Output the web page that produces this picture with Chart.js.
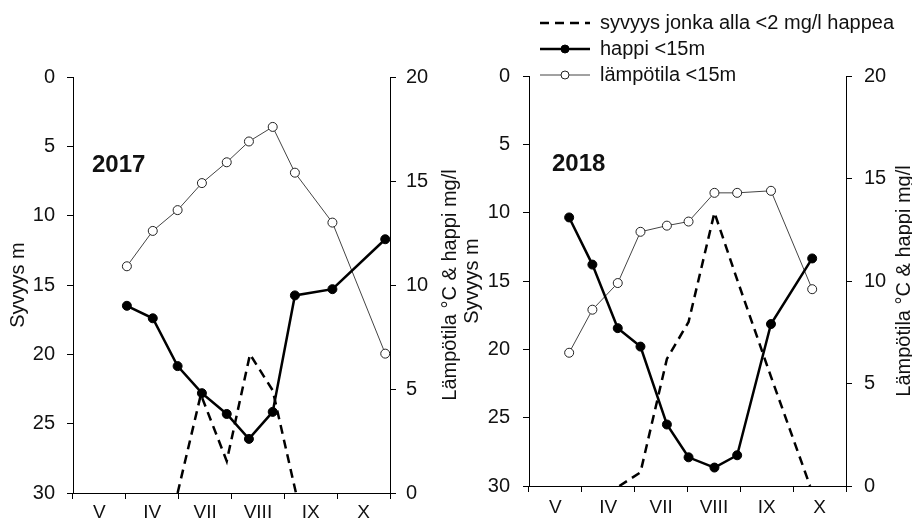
<!DOCTYPE html>
<html>
<head>
<meta charset="utf-8">
<script src="https://cdn.jsdelivr.net/npm/chart.js@4.4.0/dist/chart.umd.min.js"></script>
<style>
  html, body { margin: 0; padding: 0; background: #fff; }
  #wrap { position: relative; width: 912px; height: 523px; overflow: hidden; }
  .panel { position: absolute; top: 0; }
  #p2017 { left: 0; }
  #p2018 { left: 460px; }
</style>
</head>
<body>
<div id="wrap">
  <div class="panel" id="p2017"><canvas id="chart2017" width="460" height="523"></canvas></div>
  <div class="panel" id="p2018"><canvas id="chart2018" width="452" height="523"></canvas></div>
</div>
<script>
// ==========================================
// DATA (x = months after start of May)
// ==========================================
const monthLabels = ["V", "IV", "VII", "VIII", "IX", "X"];
const depthTicks = [0, 5, 10, 15, 20, 25, 30];
const valueTicks = [0, 5, 10, 15, 20];

const time2017 = [1.02, 1.51, 1.98, 2.44, 2.91, 3.33, 3.78, 4.20, 4.91, 5.91];
const temp2017 = [10.9, 12.6, 13.6, 14.9, 15.9, 16.9, 17.6, 15.4, 13.0, 6.7];
const oxygen2017 = [9.0, 8.4, 6.1, 4.8, 3.8, 2.6, 3.9, 9.5, 9.8, 12.2];
const anoxTime2017 = [1.98, 2.42, 2.91, 3.35, 3.78, 4.22];
const anoxDepth2017 = [30, 22.9, 27.7, 20.0, 22.6, 30];

const time2018 = [0.76, 1.20, 1.68, 2.11, 2.61, 3.02, 3.51, 3.94, 4.58, 5.36];
const temp2018 = [6.5, 8.6, 9.9, 12.4, 12.7, 12.9, 14.3, 14.3, 14.4, 9.6];
const oxygen2018 = [13.1, 10.8, 7.7, 6.8, 3.0, 1.4, 0.9, 1.5, 7.9, 11.1];
const anoxTime2018 = [1.71, 2.11, 2.61, 3.02, 3.51, 3.94, 4.58, 5.32];
const anoxDepth2018 = [30, 29.0, 20.7, 18.0, 10.0, 14.9, 22.0, 30];

const seriesNames = ["syvyys jonka alla <2 mg/l happea", "happi <15m", "lämpötila <15m"];
const depthTitle = "Syvyys m";
const valueTitle = "Lämpötila °C & happi mg/l";

// ==========================================
// CHART SETUP
// ==========================================
const FONT = 'Arial, "Liberation Sans", Helvetica, sans-serif';
const INK = "#111";
Chart.defaults.font.family = FONT;
Chart.defaults.color = INK;

const toPoints = (xs, ys) => xs.map((x, i) => ({ x: x, y: ys[i] }));

// extra drawing: year label, upward right-axis title, legend line samples
const panelDecor = {
  id: "panelDecor",
  afterLayout(chart, args, opts) {
    const lg = chart.legend;
    if (lg && opts.legendAt) {
      // move the legend above the plot, outside the chart area
      lg.left = opts.legendAt.x;
      lg.top = opts.legendAt.y;
      lg.width = 380;
      lg.right = lg.left + 380;
      lg.height = 200;
      lg.bottom = lg.top + 200;
    }
  },
  afterDraw(chart, args, opts) {
    const ctx = chart.ctx;
    const area = chart.chartArea;
    const yr = chart.scales.yVal;

    ctx.save();
    ctx.fillStyle = INK;
    ctx.font = "bold 24px " + FONT;
    ctx.textBaseline = "middle";
    ctx.textAlign = "left";
    ctx.fillText(opts.year, area.left + opts.yearDx, opts.yearY);
    ctx.restore();

    ctx.save();
    ctx.fillStyle = INK;
    ctx.font = "20px " + FONT;
    ctx.textBaseline = "middle";
    ctx.textAlign = "center";
    ctx.translate(yr.right - opts.rightTitleOffset, (area.top + area.bottom) / 2);
    ctx.rotate(-Math.PI / 2);
    ctx.fillText(valueTitle, 0, 0);
    ctx.restore();

    if (opts.legendAt) {
      const lg = chart.legend;
      const boxW = lg.options.labels.boxWidth;
      const fs = lg.options.labels.font.size;
      lg.legendHitBoxes.forEach((hb, i) => {
        const item = lg.legendItems[i];
        const ds = chart.data.datasets[item.datasetIndex];
        const y = hb.top + fs / 2;
        ctx.save();
        ctx.strokeStyle = ds.borderColor;
        ctx.lineWidth = ds.borderWidth;
        ctx.setLineDash(ds.borderDash || []);
        ctx.beginPath();
        ctx.moveTo(hb.left, y);
        ctx.lineTo(hb.left + boxW, y);
        ctx.stroke();
        if (ds.pointRadius > 0) {
          ctx.setLineDash([]);
          ctx.beginPath();
          ctx.arc(hb.left + boxW / 2, y, ds.pointRadius - 0.5, 0, Math.PI * 2);
          ctx.fillStyle = ds.pointBackgroundColor;
          ctx.fill();
          ctx.lineWidth = ds.pointBorderWidth;
          ctx.strokeStyle = ds.pointBorderColor;
          ctx.stroke();
        }
        ctx.restore();
      });
    }
  }
};

function makeChart(canvasId, cfg) {
  const ctx = document.getElementById(canvasId).getContext("2d");
  return new Chart(ctx, {
    type: "line",
    data: {
      labels: monthLabels,
      datasets: [
        {
          label: seriesNames[0],
          data: toPoints(cfg.anoxTime, cfg.anoxDepth),
          xAxisID: "xTime",
          yAxisID: "yDepth",
          borderColor: "#000",
          borderWidth: 2.5,
          borderDash: [9, 6],
          pointRadius: 0,
          fill: false,
          order: 2
        },
        {
          label: seriesNames[1],
          data: toPoints(cfg.time, cfg.oxygen),
          xAxisID: "xTime",
          yAxisID: "yVal",
          borderColor: "#000",
          borderWidth: 2.5,
          pointRadius: 4.5,
          pointBackgroundColor: "#000",
          pointBorderColor: "#000",
          pointBorderWidth: 1,
          fill: false,
          order: 0
        },
        {
          label: seriesNames[2],
          data: toPoints(cfg.time, cfg.temp),
          xAxisID: "xTime",
          yAxisID: "yVal",
          borderColor: "#444",
          borderWidth: 1,
          pointRadius: 4.5,
          pointBackgroundColor: "#fff",
          pointBorderColor: "#222",
          pointBorderWidth: 1,
          fill: false,
          order: 1
        }
      ]
    },
    options: {
      responsive: false,
      animation: false,
      layout: { padding: { top: cfg.top, left: 0, right: 0, bottom: 0 } },
      plugins: {
        tooltip: { enabled: false },
        legend: {
          display: cfg.showLegend,
          position: "chartArea",
          align: "start",
          labels: {
            boxWidth: 50,
            boxHeight: 0,
            padding: 6,
            color: INK,
            font: { size: 20 },
            sort: (a, b) => a.datasetIndex - b.datasetIndex,
            generateLabels: (chart) => {
              const items = Chart.defaults.plugins.legend.labels.generateLabels(chart);
              items.forEach(it => {
                it.lineWidth = 0;
                it.fillStyle = "rgba(0,0,0,0)";
                it.strokeStyle = "rgba(0,0,0,0)";
              });
              return items;
            }
          }
        },
        panelDecor: {
          year: cfg.year,
          yearDx: cfg.yearDx,
          yearY: cfg.yearY,
          rightTitleOffset: cfg.rightTitleOffset,
          legendAt: cfg.showLegend ? cfg.legendAt : null
        }
      },
      scales: {
        x: {
          type: "category",
          labels: monthLabels,
          position: "bottom",
          offset: true,
          grid: { offset: true, drawOnChartArea: false, tickLength: 6, color: "#000" },
          border: { color: "#000", width: 1 },
          ticks: { color: INK, font: { size: 19 }, padding: cfg.xTickPad, maxRotation: 0, autoSkip: false },
          afterFit: (s) => { s.height = cfg.axisBottom; }
        },
        xTime: {
          type: "linear",
          min: 0,
          max: 6,
          display: false
        },
        yDepth: {
          type: "linear",
          position: "left",
          reverse: true,
          min: 0,
          max: 30,
          afterBuildTicks: (s) => { s.ticks = depthTicks.map(v => ({ value: v })); },
          grid: { drawOnChartArea: false, tickLength: 6, color: "#000" },
          border: { color: "#000", width: 1 },
          ticks: { color: INK, font: { size: 20 }, padding: cfg.leftTickPad },
          title: {
            display: true,
            text: depthTitle,
            color: INK,
            font: { size: 20 },
            padding: { top: cfg.depthTitlePad, bottom: 0 }
          },
          afterFit: (s) => { s.width = cfg.axisLeft; }
        },
        yVal: {
          type: "linear",
          position: "right",
          min: 0,
          max: 20,
          afterBuildTicks: (s) => { s.ticks = valueTicks.map(v => ({ value: v })); },
          grid: { drawOnChartArea: false, tickLength: 6, color: "#000" },
          border: { color: "#000", width: 1 },
          ticks: { color: INK, font: { size: 20 }, padding: cfg.rightTickPad },
          afterFit: (s) => { s.width = cfg.axisRight; }
        }
      }
    },
    plugins: [panelDecor]
  });
}

makeChart("chart2017", {
  year: "2017",
  time: time2017, temp: temp2017, oxygen: oxygen2017,
  anoxTime: anoxTime2017, anoxDepth: anoxDepth2017,
  top: 77, axisLeft: 73, axisRight: 70, axisBottom: 30,
  leftTickPad: 12, rightTickPad: 10, xTickPad: 2,
  depthTitlePad: 6, rightTitleOffset: 10,
  yearDx: 19, yearY: 165,
  showLegend: false
});

makeChart("chart2018", {
  year: "2018",
  time: time2018, temp: temp2018, oxygen: oxygen2018,
  anoxTime: anoxTime2018, anoxDepth: anoxDepth2018,
  top: 76, axisLeft: 69, axisRight: 66, axisBottom: 37,
  leftTickPad: 13, rightTickPad: 12, xTickPad: 4,
  depthTitlePad: 0, rightTitleOffset: 8,
  yearDx: 23, yearY: 164,
  showLegend: true, legendAt: { x: 74, y: 7 }
});
</script>
</body>
</html>
